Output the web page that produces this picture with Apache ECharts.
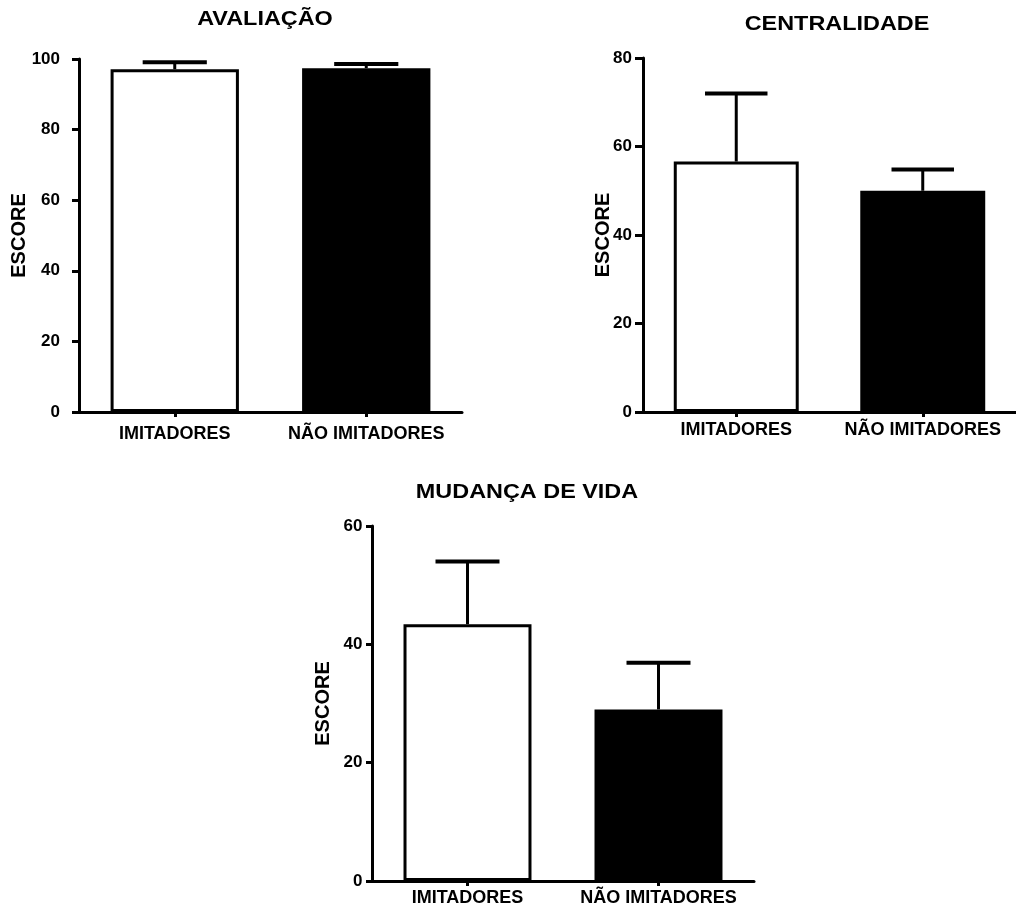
<!DOCTYPE html>
<html>
<head>
<meta charset="utf-8">
<script src="https://cdn.jsdelivr.net/npm/echarts@6/dist/echarts.min.js"></script>
<style>
html,body{margin:0;padding:0;background:#fff;}
#chart{width:1016px;height:910px;}
</style>
</head>
<body>
<div id="chart"></div>
<script>
const categories = ['IMITADORES', 'NÃO IMITADORES'];
const panelTitles = ['AVALIAÇÃO', 'CENTRALIDADE', 'MUDANÇA DE VIDA'];
const yAxisName = 'ESCORE';

const avaliacaoMean = [97.1, 97.4];
const avaliacaoErr = [2.0, 1.2];
const centralidadeMean = [56.6, 50.0];
const centralidadeErr = [15.4, 4.8];
const mudancaMean = [43.4, 29.0];
const mudancaErr = [10.6, 7.9];

const yMax = [100, 80, 60];
const yInterval = 20;

const FONT = "'Liberation Sans', Arial, sans-serif";

const grids = [
  {left: 79, top: 59, width: 383, height: 353},
  {left: 643, top: 58, width: 382, height: 354},
  {left: 372, top: 526, width: 382, height: 355}
];
const labelMargins = [19, 11, 9.5];
const catMargins = [13, 9, 8];
const nameGaps = [50, 30, 39];
const tickLens = [7, 8, 6];
const titlePos = [[265, 19], [837, 24], [527, 492]];

const means = [avaliacaoMean, centralidadeMean, mudancaMean];
const errs = [avaliacaoErr, centralidadeErr, mudancaErr];

const xAxes = [], yAxes = [], series = [], graphics = [];
for (let i = 0; i < 3; i++) {
  xAxes.push({
    type: 'category', gridIndex: i, data: categories,
    axisLine: {lineStyle: {color: '#000', width: 3}},
    axisTick: {show: true, alignWithLabel: true, length: 5, lineStyle: {color: '#000', width: 3}},
    axisLabel: {color: '#000', fontFamily: FONT, fontWeight: 'bold', fontSize: 18, margin: catMargins[i], interval: 0},
    splitLine: {show: false}
  });
  yAxes.push({
    type: 'value', gridIndex: i, min: 0, max: yMax[i], interval: yInterval,
    name: yAxisName, nameLocation: 'middle', nameRotate: 90, nameGap: nameGaps[i],
    nameMoveOverlap: false,
    nameTextStyle: {color: '#000', fontFamily: FONT, fontWeight: 'bold', fontSize: 20},
    axisLine: {show: true, lineStyle: {color: '#000', width: 3}},
    axisTick: {show: true, length: tickLens[i], lineStyle: {color: '#000', width: 3}},
    axisLabel: {color: '#000', fontFamily: FONT, fontWeight: 'bold', fontSize: 17, margin: labelMargins[i]},
    splitLine: {show: false}
  });
  series.push({
    type: 'bar', xAxisIndex: i, yAxisIndex: i, barWidth: '67%',
    data: means[i].map((v, j) => ({
      value: v,
      itemStyle: {color: j === 0 ? '#fff' : '#000', borderColor: '#000', borderWidth: 3}
    })),
    z: 2
  });
  const m = means[i], e = errs[i];
  series.push({
    type: 'custom', xAxisIndex: i, yAxisIndex: i, z: 3,
    data: m.map((v, j) => [j, v, v + e[j]]),
    renderItem: function (params, api) {
      const base = api.coord([api.value(0), api.value(1)]);
      const top = api.coord([api.value(0), api.value(2)]);
      const bw = api.size([1, 0])[0] * 0.67;
      const hw = bw / 4;
      return {
        type: 'group',
        children: [
          {type: 'line', shape: {x1: base[0], y1: base[1], x2: top[0], y2: top[1]}, style: {stroke: '#000', lineWidth: 3}},
          {type: 'line', shape: {x1: top[0] - hw, y1: top[1], x2: top[0] + hw, y2: top[1]}, style: {stroke: '#000', lineWidth: 4}}
        ]
      };
    }
  });
  graphics.push({
    type: 'text', x: titlePos[i][0], y: titlePos[i][1], scaleX: 1.17,
    style: {text: panelTitles[i], font: 'bold 20px ' + FONT, fill: '#000', textAlign: 'center', textVerticalAlign: 'middle'}
  });
}

const chart = echarts.init(document.getElementById('chart'), null, {renderer: 'canvas'});
chart.setOption({
  backgroundColor: '#fff',
  animation: false,
  grid: grids,
  xAxis: xAxes,
  yAxis: yAxes,
  series: series,
  graphic: graphics
});
</script>
</body>
</html>
